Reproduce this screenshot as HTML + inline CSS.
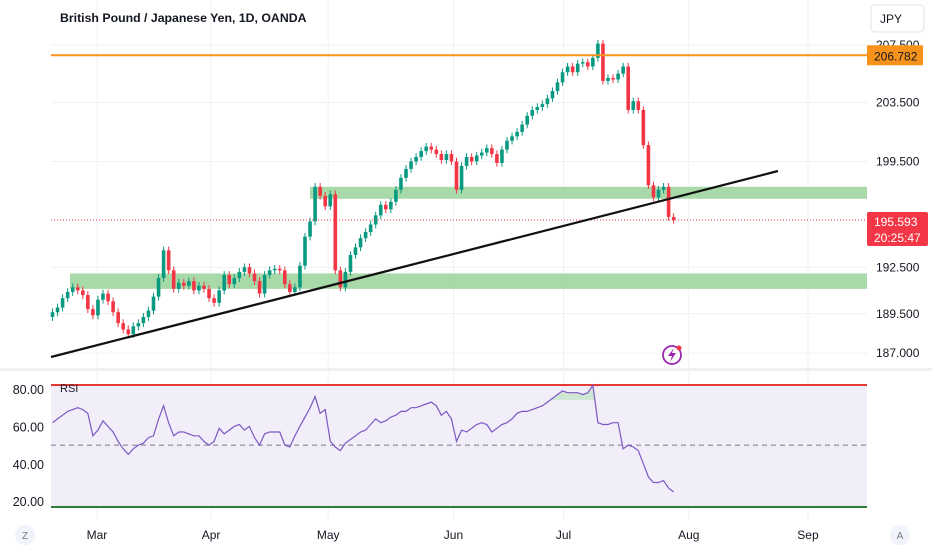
<!DOCTYPE html>
<html><head><meta charset="utf-8"><style>
body{margin:0;background:#fff;width:932px;height:550px;overflow:hidden;font-family:"Liberation Sans",sans-serif}
svg text{font-family:"Liberation Sans",sans-serif}
</style></head><body>
<svg id="c" width="932" height="550" viewBox="0 0 932 550">
<defs><clipPath id="ob"><rect x="51" y="370" width="816" height="30"/></clipPath></defs>
<g id="grid"></g>
<rect x="51" y="385" width="816" height="121" fill="#f1eefa"/>
<g id="zones"></g>
<g id="candles"></g>
<g id="overlay"></g>
<g id="rsi"></g>
<g id="axes"></g>
</svg>
<script>
const closes=[189.6,189.9,190.5,190.9,191.2,191.0,190.7,189.8,189.4,190.4,190.8,190.3,189.6,188.9,188.5,188.2,188.7,188.9,189.3,189.7,190.6,191.8,193.6,192.3,191.1,191.5,191.3,191.6,191.0,191.3,191.1,190.5,190.2,191.0,192.0,191.4,191.8,192.2,192.5,192.1,191.6,190.8,192.0,192.3,192.4,192.3,191.4,190.9,191.2,192.6,194.5,195.5,197.8,197.2,196.5,197.3,192.3,191.2,192.2,193.3,193.8,194.4,194.8,195.3,195.9,196.6,196.3,196.8,197.6,198.4,199.0,199.5,199.8,200.2,200.5,200.3,200.0,199.6,200.0,199.5,197.6,199.2,199.8,199.5,199.9,200.1,200.4,200.0,199.4,200.3,200.9,201.2,201.5,202.0,202.6,203.0,203.2,203.4,203.8,204.3,204.9,205.6,206.0,205.6,206.2,206.3,206.0,206.6,207.6,205.0,205.2,205.1,205.5,206.0,203.0,203.6,203.0,200.6,197.9,197.1,197.6,197.8,195.8,195.6];
const firstOpen=189.3;
const rsiValues=[62,64,66,68,69,70,69,67,55,58,63,60,57,52,48,45,48,50,51,54,55,64,71,62,55,57,57,56,55,55,52,50,52,59,56,58,60,61,58,60,54,50,56,57,57,57,50,49,55,60,65,70,76,67,69,52,49,47,51,53,55,57,58,61,64,62,63,65,66,68,68,70,70,71,72,73,71,66,68,64,52,58,57,59,61,62,61,57,59,61,62,64,67,68,68,69,70,71,73,75,77,79,78,78,78,77,78,82,62,61,61,62,62,48,50,49,47,40,33,30,30,31,27,25];
const priceTicks=[207.5,203.5,199.5,192.5,189.5,187.0];
const rsiTicks=[80,60,40,20];
const monthLabels=["Mar","Apr","May","Jun","Jul","Aug","Sep"];
const monthIndex=[8.8,31.4,54.6,79.4,101.2,126,149.6];
const levelOrange=206.782, lastPrice=195.593;
const zoneA=[197.0,197.8], zoneB=[191.1,192.1];

const NS="http://www.w3.org/2000/svg";
function mk(p,t,a){const e=document.createElementNS(NS,t);for(const k in a)e.setAttribute(k,a[k]);p.appendChild(e);return e;}
const L=51,R=867;
const yP=p=>45+(Math.log(207.5)-Math.log(p))*2962;
const xI=i=>52.5+i*5.05;
const yR=v=>389+(80-v)*1.87;
const G=document.getElementById('grid'),Z=document.getElementById('zones'),C=document.getElementById('candles'),O=document.getElementById('overlay'),RS=document.getElementById('rsi'),A=document.getElementById('axes');

priceTicks.forEach(p=>{const l=mk(G,'line',{x1:L,x2:R,y1:yP(p),y2:yP(p),stroke:'#f0f1f3'});

});
monthIndex.forEach(m=>{const l=mk(G,'line',{x1:xI(m),x2:xI(m),y1:0,y2:520,stroke:'#f0f1f3'});

});
rsiTicks.forEach(v=>{const l=mk(G,'line',{x1:L,x2:R,y1:yR(v),y2:yR(v),stroke:'#eceef2'});

});
mk(G,'rect',{x:0,y:368,width:932,height:3,fill:'#eef0f3'});

let z1=mk(Z,'rect',{x:310,y:yP(zoneA[1]),width:R-310,height:yP(zoneA[0])-yP(zoneA[1]),fill:'#9fd6a0',opacity:0.9});


let z2=mk(Z,'rect',{x:70,y:yP(zoneB[1]),width:R-70,height:yP(zoneB[0])-yP(zoneB[1]),fill:'#9fd6a0',opacity:0.9});



closes.forEach((c,i)=>{const o=i?closes[i-1]:firstOpen;const up=c>=o;const col=up?'#089981':'#f23645';
const hi=Math.max(o,c)+0.25,lo=Math.min(o,c)-0.25;const x=xI(i);
const g=mk(C,'g',{});


mk(g,'line',{x1:x,x2:x,y1:yP(hi),y2:yP(lo),stroke:col,'stroke-width':1});
const t=yP(Math.max(o,c)),b=yP(Math.min(o,c));
mk(g,'rect',{x:x-1.8,y:t,width:3.6,height:Math.max(1,b-t),fill:col});});

let ol=mk(O,'line',{x1:L,x2:R,y1:yP(levelOrange),y2:yP(levelOrange),stroke:'#f7931a','stroke-width':2});


let dl=mk(O,'line',{x1:L,x2:R,y1:yP(lastPrice),y2:yP(lastPrice),stroke:'#f23645','stroke-width':1,'stroke-dasharray':'1 2'});


let tl=mk(O,'line',{x1:51,y1:357,x2:778,y2:171,stroke:'#111','stroke-width':2.2});


let ic=mk(O,'g',{});


mk(ic,'circle',{cx:672,cy:355,r:9,fill:'none',stroke:'#9c27b0','stroke-width':1.8});
mk(ic,'path',{d:'M674 348 L668 356 L672 356 L670 362 L676 353 L672 353 Z',fill:'#9c27b0'});
mk(ic,'circle',{cx:679,cy:348,r:2.5,fill:'#f23645'});

mk(RS,'line',{x1:L,x2:R,y1:yR(50),y2:yR(50),stroke:'#787b86','stroke-dasharray':'5 4'});
let pts=rsiValues.map((v,i)=>xI(i).toFixed(1)+','+yR(v).toFixed(1)).join(' ');
let fillPts=xI(0)+','+yR(74)+' '+pts+' '+xI(rsiValues.length-1)+','+yR(74);
let of=mk(RS,'polygon',{points:fillPts,fill:'#c8e6c9',opacity:0.8,'clip-path':'url(#ob)'});


let rl=mk(RS,'line',{x1:L,x2:R,y1:385,y2:385,stroke:'#e53935','stroke-width':2});


let gl=mk(RS,'line',{x1:L,x2:R,y1:507,y2:507,stroke:'#2e7d32','stroke-width':2});


let rp=mk(RS,'polyline',{points:pts,fill:'none',stroke:'#7e57c2','stroke-width':1.2});


let rt=mk(RS,'text',{x:60,y:392,'font-size':11,fill:'#131722'});rt.textContent='RSI';



priceTicks.forEach(p=>{const t=mk(A,'text',{x:876,y:yP(p)+4,'font-size':12,fill:'#131722'});t.textContent=p.toFixed(3);

});
rsiTicks.forEach(v=>{const t=mk(A,'text',{x:44,y:yR(v)+5,'font-size':12.5,fill:'#131722','text-anchor':'end'});t.textContent=v.toFixed(2);

});
monthLabels.forEach((m,i)=>{const t=mk(A,'text',{x:xI(monthIndex[i]),y:539,'font-size':12,fill:'#131722','text-anchor':'middle'});t.textContent=m;

});
let ob=mk(A,'g',{});


mk(ob,'rect',{x:867,y:yP(levelOrange)-10,width:56,height:20,fill:'#f7931a'});
mk(ob,'text',{x:874,y:yP(levelOrange)+5,'font-size':12,fill:'#131722'}).textContent=levelOrange.toFixed(3);
let rb=mk(A,'g',{});


mk(rb,'rect',{x:867,y:212,width:61,height:34,rx:2,fill:'#f23645'});
mk(rb,'text',{x:874,y:226,'font-size':12,fill:'#fff'}).textContent=lastPrice.toFixed(3);
mk(rb,'text',{x:874,y:242,'font-size':12,fill:'#fff'}).textContent='20:25:47';
let jb=mk(A,'g',{});


mk(jb,'rect',{x:871,y:5,width:53,height:27,rx:4,fill:'#fff',stroke:'#e0e3eb'});
mk(jb,'text',{x:880,y:23,'font-size':12,fill:'#131722'}).textContent='JPY';
let tt=mk(A,'text',{x:60,y:22,'font-size':12.3,'font-weight':'bold',fill:'#131722'});tt.textContent='British Pound / Japanese Yen, 1D, OANDA';


[['Z',25],['A',900]].forEach(([s,x])=>{const g=mk(A,'g',{});


mk(g,'circle',{cx:x,cy:535,r:10,fill:'#f0f3fa'});
mk(g,'text',{x:x,y:539,'font-size':10,fill:'#787b86','text-anchor':'middle'}).textContent=s;});
</script>
</body></html>
